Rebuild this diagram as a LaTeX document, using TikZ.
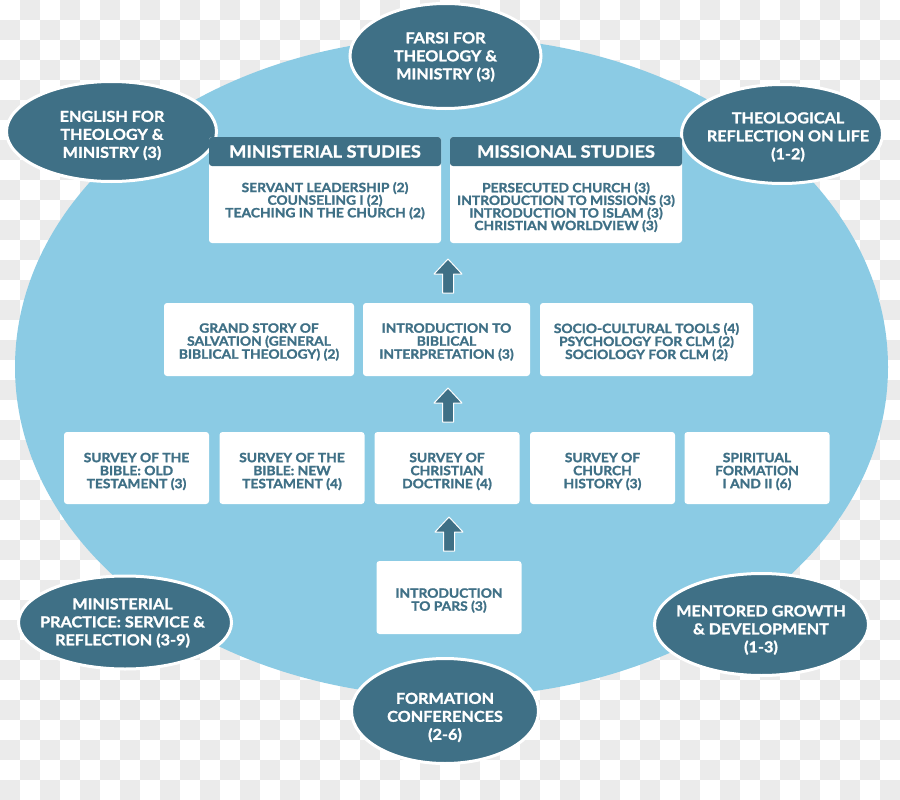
\documentclass[tikz,border=0pt]{standalone}
\usepackage{fontspec}
\setmainfont{Lato}
\newfontfamily\heavy{Lato}[FakeStretch=1.08, FakeBold=1.5]
\usetikzlibrary{shapes.geometric}
\definecolor{lightblue}{HTML}{8BCBE4}
\definecolor{darkteal}{HTML}{3F7086}
\definecolor{checker}{HTML}{EBEBEB}
\begin{document}
\begin{tikzpicture}[x=1pt,y=-1pt,
  oval/.style={ellipse, fill=darkteal, draw=white, line width=3pt, inner sep=0pt},
  otext/.style={text=white, font=\heavy\bfseries\fontsize{15}{18}\selectfont, align=center, inner sep=0pt, yshift=-1.5pt},
  card/.style={fill=white, rounded corners=3pt, inner sep=0pt, minimum height=73pt},
  ctext/.style={text=darkteal, font=\heavy\bfseries\fontsize{12.8}{13}\selectfont, align=center, inner sep=0pt, yshift=-2pt},
  ltext/.style={text=darkteal, font=\heavy\bfseries\fontsize{12.8}{12.6}\selectfont, align=center, inner sep=0pt, yshift=-1.2pt},
  headband/.style={fill=darkteal, text=white, font=\heavy\bfseries\fontsize{16.9}{19}\selectfont, inner sep=0pt, minimum width=232pt, minimum height=29pt, rounded corners=3pt},
  uparr/.pic={\filldraw[fill=darkteal, draw=white, line width=1pt, line join=round]
     (-5.5,17) -- (-5.5,-2) -- (-14,-2) -- (0,-17) -- (14,-2) -- (5.5,-2) -- (5.5,17) -- cycle;}
]
\useasboundingbox (0,0) rectangle (900,800);
% checkerboard background
\fill[white] (0,0) rectangle (900,800);
\foreach \i in {0,...,44}{
  \foreach \j in {0,...,39}{
    \pgfmathtruncatemacro{\chk}{mod(\i+\j,2)}
    \ifnum\chk=1 \fill[checker] (\i*20,\j*20) rectangle (\i*20+20,\j*20+20); \fi
  }
}
% big light-blue ellipse
\node[ellipse, fill=lightblue, inner sep=0pt, minimum width=873pt, minimum height=660pt] (basin) at (451.5,367) {};

% outer ovals
\node[oval, minimum width=191pt, minimum height=105pt] (farsi) at (445.5,56) {};
\node[otext] (farsiT) at (445.5,55.5) {FARSI FOR\\THEOLOGY \&\\MINISTRY (3)};
\node[oval, minimum width=210pt, minimum height=100pt] (english) at (111.5,131.5) {};
\node[otext] (englishT) at (112,134) {ENGLISH FOR\\THEOLOGY \&\\MINISTRY (3)};
\node[oval, minimum width=201pt, minimum height=99pt] (theo) at (782,134) {};
\node[otext] (theoT) at (788,135.5) {THEOLOGICAL\\REFLECTION ON LIFE\\(1-2)};
\node[oval, minimum width=213pt, minimum height=93pt] (practice) at (125,622.5) {};
\node[otext] (practiceT) at (122.5,621.5) {MINISTERIAL\\PRACTICE: SERVICE \&\\REFLECTION (3-9)};
\node[oval, minimum width=214pt, minimum height=102pt] (mentor) at (761.5,624.5) {};
\node[otext] (mentorT) at (761,628.5) {MENTORED GROWTH\\\& DEVELOPMENT\\(1-3)};
\node[oval, minimum width=187pt, minimum height=105pt] (conf) at (445,711) {};
\node[otext] (confT) at (445,716) {FORMATION\\CONFERENCES\\(2-6)};

% top study boxes
\node[card, minimum width=232pt, minimum height=106pt] (mini) at (325,190) {};
\node[headband] (miniH) at (325,151.5) {MINISTERIAL STUDIES};
\node[ltext] (miniT) at (325,199.5) {SERVANT LEADERSHIP (2)\\COUNSELING I (2)\\TEACHING IN THE CHURCH (2)};
\node[card, minimum width=232pt, minimum height=106pt] (miss) at (566,190) {};
\node[headband] (missH) at (566,151.5) {MISSIONAL STUDIES};
\node[ltext] (missT) at (566,206) {PERSECUTED CHURCH (3)\\INTRODUCTION TO MISSIONS (3)\\INTRODUCTION TO ISLAM (3)\\CHRISTIAN WORLDVIEW (3)};

% row 2
\node[card, minimum width=190pt] (grand) at (259,339.5) {};
\node[ctext] (grandT) at (259,340) {GRAND STORY OF\\SALVATION (GENERAL\\BIBLICAL THEOLOGY) (2)};
\node[card, minimum width=167pt] (interp) at (446.5,339.5) {};
\node[ctext] (interpT) at (446.5,340) {INTRODUCTION TO\\BIBLICAL\\INTERPRETATION (3)};
\node[card, minimum width=213pt] (socio) at (646.5,339.5) {};
\node[ctext] (socioT) at (646.5,340) {SOCIO-CULTURAL TOOLS (4)\\PSYCHOLOGY FOR CLM (2)\\SOCIOLOGY FOR CLM (2)};

% row 3
\node[card, minimum width=145pt, minimum height=72pt] (ot) at (136.5,468) {};
\node[ctext] (otT) at (136.5,469.5) {SURVEY OF THE\\BIBLE: OLD\\TESTAMENT (3)};
\node[card, minimum width=145pt, minimum height=72pt] (nt) at (292,468) {};
\node[ctext] (ntT) at (292,469.5) {SURVEY OF THE\\BIBLE: NEW\\TESTAMENT (4)};
\node[card, minimum width=145pt, minimum height=72pt] (doct) at (447,468) {};
\node[ctext] (doctT) at (447,469.5) {SURVEY OF\\CHRISTIAN\\DOCTRINE (4)};
\node[card, minimum width=145pt, minimum height=72pt] (hist) at (602.5,468) {};
\node[ctext] (histT) at (602.5,469.5) {SURVEY OF\\CHURCH\\HISTORY (3)};
\node[card, minimum width=145pt, minimum height=72pt] (spir) at (757,468) {};
\node[ctext] (spirT) at (757,469.5) {SPIRITUAL\\FORMATION\\I AND II (6)};

% row 4
\node[card, minimum width=145pt] (pars) at (449,597.5) {};
\node[ctext] (parsT) at (449,598.5) {INTRODUCTION\\TO PARS (3)};

% block arrows
\coordinate (a1) at (449,534);
\coordinate (a2) at (448,405);
\coordinate (a3) at (448,276);
\pic at (a1) {uparr};
\pic at (a2) {uparr};
\pic at (a3) {uparr};
\end{tikzpicture}
\end{document}
